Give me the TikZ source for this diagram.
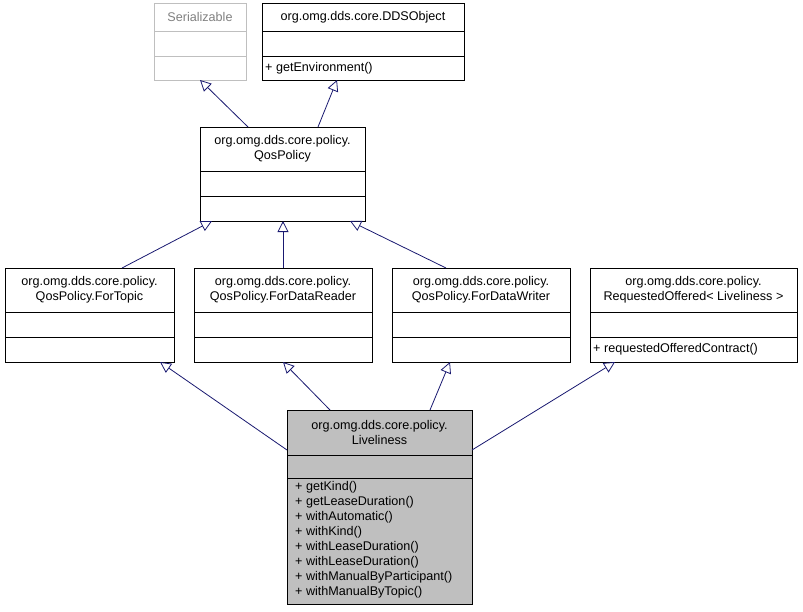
\documentclass[tikz,border=0pt]{standalone}
\usepackage{fontspec}
\setmainfont{Liberation Sans}
\usetikzlibrary{arrows.meta,positioning,calc}
\definecolor{edgeblue}{HTML}{191970}
\definecolor{boxgray}{HTML}{BFBFBF}
\definecolor{lightline}{HTML}{BFBFBF}

% class box: name, x1, x2, ytop, ydiv1, ydiv2, ybot, title, methods
\newcommand{\umlclass}[9]{%
  \draw[classline] (#2,#4) rectangle (#3,#7);
  \draw[classline] (#2,#5) -- (#3,#5) (#2,#6) -- (#3,#6);
  \node[title] (#1) at ({(#2+#3)/2},{(#4+#5)/2}) {#8};
  \node[members] (#1m) at (#2+3,{(#6+#7)/2}) {#9};
}

\begin{document}
\begin{tikzpicture}[
    x=1pt, y=-1pt,
    font=\fontsize{12.6}{15}\selectfont,
    classline/.style={draw=black, line width=0.9pt},
    title/.style={align=center, inner sep=0pt},
    members/.style={align=left, anchor=west, inner sep=0pt},
    inherit/.style={draw=edgeblue, line width=0.8pt,
                -{Triangle[open, length=11pt, width=11pt]}},
]
\useasboundingbox (0,0) rectangle (803,611);

\begin{scope}[classline/.style={draw=lightline, line width=0.9pt}]
\umlclass{ser}{154}{246}{3}{31}{56}{80}{\textcolor{gray}{Serializable}}{}
\end{scope}
\umlclass{dds}{262}{464}{3}{31}{56}{80}{org.omg.dds.core.DDSObject}{+ getEnvironment()}
\umlclass{qos}{200}{365}{127}{171}{196}{221}{org.omg.dds.core.policy.\\QosPolicy}{}
\umlclass{topic}{5}{174}{268}{312}{337}{362}{org.omg.dds.core.policy.\\QosPolicy.ForTopic}{}
\umlclass{reader}{194}{372}{268}{312}{337}{362}{org.omg.dds.core.policy.\\QosPolicy.ForDataReader}{}
\umlclass{writer}{392}{570}{268}{312}{337}{362}{org.omg.dds.core.policy.\\QosPolicy.ForDataWriter}{}
\umlclass{reqoff}{590}{797}{268}{312}{337}{362}{org.omg.dds.core.policy.\\RequestedOffered< Liveliness >}{+ requestedOfferedContract()}

\fill[boxgray] (287,410) rectangle (472,604);
\draw[classline] (287,410) rectangle (472,604);
\draw[classline] (287,455) -- (472,455) (287,478) -- (472,478);
\node[title] (live) at (379.5,432.5) {org.omg.dds.core.policy.\\Liveliness};
\node[members, anchor=north west] (livem) at (295,481) {+ getKind()\\+ getLeaseDuration()\\+ withAutomatic()\\+ withKind()\\+ withLeaseDuration()\\+ withLeaseDuration()\\+ withManualByParticipant()\\+ withManualByTopic()};

% connector end points on the box borders
\coordinate (serB) at (200,80);
\coordinate (ddsB) at (337,80);
\coordinate (qosT1) at (248,127);
\coordinate (qosT2) at (318,127);
\coordinate (qosB1) at (212,221);
\coordinate (qosB2) at (283,221);
\coordinate (qosB3) at (350,221);
\coordinate (topicT) at (122,268);
\coordinate (readerT) at (283,268);
\coordinate (writerT) at (446,268);
\coordinate (topicB) at (160,362);
\coordinate (readerB) at (283,362);
\coordinate (writerB) at (450,362);
\coordinate (reqoffB) at (615,362);
\coordinate (liveL) at (287,450);
\coordinate (liveT1) at (330,410);
\coordinate (liveT2) at (430,410);
\coordinate (liveR) at (472,450);

\draw[inherit] (qosT1) -- (serB);
\draw[inherit] (qosT2) -- (ddsB);
\draw[inherit] (topicT) -- (qosB1);
\draw[inherit] (readerT) -- (qosB2);
\draw[inherit] (writerT) -- (qosB3);
\draw[inherit] (liveL) -- (topicB);
\draw[inherit] (liveT1) -- (readerB);
\draw[inherit] (liveT2) -- (writerB);
\draw[inherit] (liveR) -- (reqoffB);
\end{tikzpicture}
\end{document}
